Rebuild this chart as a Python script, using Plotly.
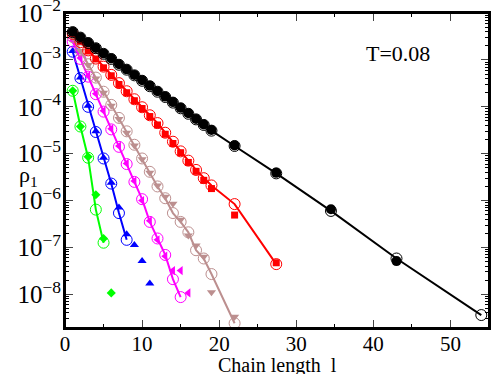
import plotly.graph_objects as go

# ---------------- data ----------------
black_l_open = list(range(1, 20)) + [22, 27.4, 34.5, 43, 54]
black_open = [3.93e-3, 3.0e-3, 2.3e-3, 1.78e-3, 1.35e-3, 1.05e-3, 7.9e-4, 6.2e-4, 4.7e-4,
              3.6e-4, 2.75e-4, 2.1e-4, 1.62e-4, 1.23e-4, 9.3e-5, 7.1e-5, 5.4e-5, 4.1e-5,
              3.1e-5, 1.46e-5, 3.8e-6, 6.0e-7, 5.8e-8, 3.6e-9]
black_l_fill = list(range(1, 20)) + [22, 27.4, 34.5, 43]
black_fill = [4.0e-3, 3.05e-3, 2.35e-3, 1.8e-3, 1.38e-3, 1.07e-3, 8.1e-4, 6.3e-4, 4.8e-4,
              3.7e-4, 2.8e-4, 2.15e-4, 1.65e-4, 1.26e-4, 9.5e-5, 7.3e-5, 5.5e-5, 4.2e-5,
              3.2e-5, 1.5e-5, 3.9e-6, 6.5e-7, 5.1e-8]

red_l_open = list(range(1, 20)) + [22, 27.4]
red_open = [3.6e-3, 2.4e-3, 1.6e-3, 1.07e-3, 7.2e-4, 4.8e-4, 3.2e-4, 2.15e-4, 1.45e-4,
            9.8e-5, 6.6e-5, 4.5e-5, 2.8e-5, 1.8e-5, 1.12e-5, 7.1e-6, 4.5e-6, 3.0e-6,
            2.1e-6, 8.4e-7, 4.4e-8]
red_l_fill = list(range(1, 20)) + [22, 27.4]
red_fill = [3.7e-3, 2.5e-3, 1.55e-3, 1.05e-3, 6.8e-4, 4.6e-4, 3.0e-4, 2.0e-4, 1.35e-4,
            9.2e-5, 6.2e-5, 4.1e-5, 2.6e-5, 1.65e-5, 1.05e-5, 6.5e-6, 4.2e-6, 2.7e-6,
            1.8e-6, 4.9e-7, 4.7e-8]

tan_l_open = list(range(1, 20)) + [22]
tan_open = [3.1e-3, 1.6e-3, 8.1e-4, 4.2e-4, 2.1e-4, 1.1e-4, 5.8e-5, 3.0e-5, 1.55e-5,
            7.9e-6, 4.1e-6, 2.0e-6, 1.12e-6, 5.4e-7, 3.5e-7, 2.1e-7, 8.7e-8, 5.8e-8,
            2.7e-8, 2.4e-9]
tan_l_fill = list(range(1, 20)) + [22]
tan_fill = [3.0e-3, 1.55e-3, 7.8e-4, 4.0e-4, 2.0e-4, 1.05e-4, 5.5e-5, 2.8e-5, 1.5e-5,
            7.6e-6, 3.9e-6, 2.1e-6, 1.2e-6, 8.5e-7, 3.9e-7, 1.8e-7, 1.1e-7, 6.3e-8,
            1.1e-8, 3.3e-9]

mag_l_open = list(range(1, 16))
mag_open = [2.45e-3, 1.05e-3, 4.4e-4, 1.86e-4, 7.9e-5, 3.3e-5, 1.4e-5, 6.0e-6, 2.5e-6,
            1.07e-6, 3.5e-7, 1.55e-7, 6.9e-8, 2.1e-8, 8.7e-9]
mag_l_fill = list(range(1, 17))
mag_fill = [2.6e-3, 1.1e-3, 4.6e-4, 1.9e-4, 8.2e-5, 3.4e-5, 1.45e-5, 6.2e-6, 2.6e-6,
            1.0e-6, 3.7e-7, 1.45e-7, 6.5e-8, 3.2e-8, 3.2e-8, 1.07e-8]

blue_l_open = list(range(1, 9))
blue_open = [1.5e-3, 4.1e-4, 1.0e-4, 2.9e-5, 7.9e-6, 2.3e-6, 5.4e-7, 1.45e-7]
blue_l_fill = list(range(1, 12))
blue_fill = [1.55e-3, 4.2e-4, 1.05e-4, 3.0e-5, 8.2e-6, 2.4e-6, 7.1e-7, 1.9e-7, 1.12e-7,
             5.1e-8, 1.7e-8]

green_l_open = list(range(1, 6))
green_open = [2.2e-4, 3.8e-5, 8.2e-6, 6.4e-7, 1.26e-7]
green_l_fill = list(range(1, 7))
green_fill = [2.2e-4, 3.8e-5, 8.6e-6, 1.33e-6, 1.55e-7, 1.07e-8]

x_ticks = [0, 10, 20, 30, 40, 50]
annotation_text = "T=0.08"
x_title = "Chain length  l"
y_title = "ρ<sub>1</sub>"

# ---------------- figure ----------------
FONT = "Liberation Serif, Times New Roman, serif"
fig = go.Figure()

series = [
    ("#00ff00", "diamond", 7, green_l_open, green_open, green_l_fill, green_fill),
    ("#0000ff", "triangle-up", 8, blue_l_open, blue_open, blue_l_fill, blue_fill),
    ("#ff00ff", "triangle-left", 8, mag_l_open, mag_open, mag_l_fill, mag_fill),
    ("#bc8f8f", "triangle-down", 8, tan_l_open, tan_open, tan_l_fill, tan_fill),
    ("#ff0000", "square", 7, red_l_open, red_open, red_l_fill, red_fill),
    ("#000000", "circle", 10, black_l_open, black_open, black_l_fill, black_fill),
]

for color, sym, msize, lo, vo, lf, vf in series:
    fig.add_trace(go.Scatter(
        x=lo, y=vo, mode="lines+markers",
        line=dict(color=color, width=2),
        marker=dict(symbol="circle-open", size=11, color=color, line=dict(width=1, color=color)),
        showlegend=False))
    fig.add_trace(go.Scatter(
        x=lf, y=vf, mode="markers",
        marker=dict(symbol=sym, size=msize, color=color, line=dict(width=0)),
        showlegend=False))

fig.add_annotation(text=annotation_text, xref="paper", yref="paper",
                   x=0.785, y=0.870, xanchor="center", yanchor="middle", showarrow=False,
                   font=dict(family=FONT, size=22, color="black"))
fig.add_annotation(text=y_title, xref="paper", yref="paper",
                   x=-0.085, y=0.482, xanchor="center", yanchor="middle", showarrow=False,
                   font=dict(family=FONT, size=22, color="black"))
fig.add_annotation(text=x_title, xref="paper", yref="paper",
                   x=0.5, y=-0.118, xanchor="center", yanchor="middle", showarrow=False,
                   font=dict(family=FONT, size=20, color="black"))

# plot frame
fig.add_shape(type="rect", xref="paper", yref="paper", x0=0, y0=0, x1=1, y1=1,
              line=dict(color="black", width=2), layer="above")

fig.update_layout(
    width=491, height=374,
    margin=dict(l=65, r=2, t=13, b=46),
    paper_bgcolor="white", plot_bgcolor="white",
    font=dict(family=FONT, size=21, color="black"),
    xaxis=dict(range=[0, 55], tickvals=x_ticks, ticks="inside", ticklen=8, tickwidth=1,
               showline=True, linewidth=2, linecolor="black", mirror="allticks",
               showgrid=False, zeroline=False, automargin=False, ticklabeloverflow="allow",
               ticklabelstandoff=-4,
               minor=dict(ticks="inside", ticklen=4, dtick=5, tickcolor="black", showgrid=False),
               tickfont=dict(family=FONT, size=21)),
    yaxis=dict(type="log", range=[-8.72, -1.998], dtick=1, exponentformat="power",
               ticks="inside", ticklen=8, tickwidth=1,
               showline=True, linewidth=2, linecolor="black", mirror="allticks",
               showgrid=False, zeroline=False, automargin=False, ticklabeloverflow="allow",
               ticklabelstandoff=-2,
               minor=dict(ticks="inside", ticklen=4, dtick="D1", tickcolor="black", showgrid=False),
               tickfont=dict(family=FONT, size=20)),
)

fig.write_html("out.html", config={"displayModeBar": False},
               post_script="document.body.style.margin='0';document.body.style.padding='0';"
                           "document.documentElement.style.overflow='hidden';")
